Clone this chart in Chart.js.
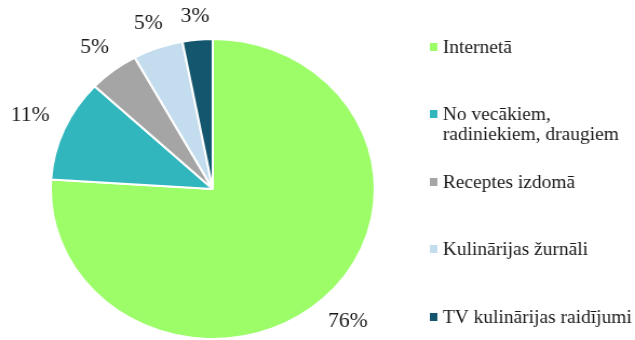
<!DOCTYPE html>
<html>
<head>
<meta charset="utf-8">
<script src="https://cdn.jsdelivr.net/npm/chart.js@4"></script>
<style>
  html, body { margin: 0; padding: 0; background: #fff; overflow: hidden; }
  #wrap { width: 588px; height: 340px; transform: scaleX(1.08); transform-origin: 0 0; }
</style>
</head>
<body>
<div id="wrap"><canvas id="pieChart" width="588" height="340"></canvas></div>
<script>
// sources of recipes, share of answers in %
const categories = [
  "Internetā",
  ["No vecākiem,", "radiniekiem, draugiem"],
  "Receptes izdomā",
  "Kulinārijas žurnāli",
  "TV kulinārijas raidījumi",
];
const shares = [76, 11, 5, 5, 3];
const colors = ["#9CFD69", "#31B6BE", "#A5A5A5", "#C3DCEE", "#14566E"];

// legend rows: baseline of first text line for each item
const legendY = [53, 120, 188, 255, 323];

const FONT = "'Liberation Serif', 'Times New Roman', serif";

// percent labels just outside every slice, text box kept a fixed gap from the rim
const outsideLabels = {
  id: "outsideLabels",
  afterDatasetsDraw(chart) {
    const ctx = chart.ctx;
    const meta = chart.getDatasetMeta(0);
    ctx.save();
    ctx.font = "20px " + FONT;
    ctx.fillStyle = "#1a1a1a";
    ctx.textAlign = "center";
    ctx.textBaseline = "middle";
    meta.data.forEach((arc, i) => {
      const p = arc.getProps(["x", "y", "startAngle", "endAngle", "outerRadius"]);
      const mid = (p.startAngle + p.endAngle) / 2;
      const text = shares[i] + "%";
      const w = ctx.measureText(text).width;
      const c = Math.cos(mid), s = Math.sin(mid);
      const r = p.outerRadius + 15 + Math.abs(c) * w / 2 + Math.abs(s) * 7;
      ctx.fillText(text, p.x + c * r, p.y + s * r);
    });
    ctx.restore();
  },
};

// legend on the right, one item per row, long label on two lines
const sideLegend = {
  id: "sideLegend",
  afterDraw(chart) {
    const ctx = chart.ctx;
    ctx.save();
    ctx.font = "18px " + FONT;
    ctx.textBaseline = "alphabetic";
    ctx.textAlign = "left";
    chart.data.labels.forEach((label, i) => {
      const y = legendY[i];
      ctx.fillStyle = colors[i];
      ctx.fillRect(398, y - 10, 7, 8);
      ctx.fillStyle = "#1a1a1a";
      const lines = Array.isArray(label) ? label : [label];
      lines.forEach((line, j) => ctx.fillText(line, 410, y + j * 20));
    });
    ctx.restore();
  },
};

const chart = new Chart(document.getElementById("pieChart"), {
  type: "pie",
  data: {
    labels: categories,
    datasets: [
      {
        data: shares,
        backgroundColor: colors,
        borderColor: "#fff",
        borderWidth: 2,
      },
    ],
  },
  options: {
    responsive: false,
    animation: false,
    layout: {
      padding: { top: 38, bottom: 0, left: 46, right: 240 },
    },
    plugins: {
      legend: { display: false },
      tooltip: { enabled: false },
    },
  },
  plugins: [outsideLabels, sideLegend],
});

document.fonts.ready.then(() => chart.update());
</script>
</body>
</html>
